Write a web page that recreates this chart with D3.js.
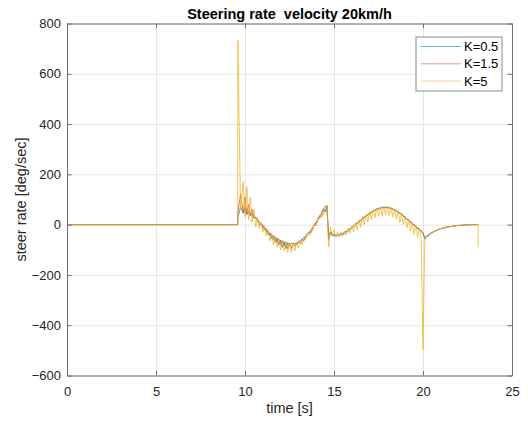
<!DOCTYPE html>
<html>
<head>
<meta charset="utf-8">
<script src="https://cdn.jsdelivr.net/npm/d3@7"></script>
<style>
  body { margin: 0; background: #fff; }
  svg { font-family: "Liberation Sans", Arial, Helvetica, sans-serif; }
  .axis path, .axis line { stroke: #6e6e6e; }
  .axis text { fill: #262626; font-size: 13px; }
  .grid line { stroke: #e6e6e6; }
  .grid path { display: none; }
  .graph { fill: none; stroke-width: 0.75; stroke-linejoin: miter; }
</style>
</head>
<body>
<div id="chart"></div>
<script>
// Sample times [s]
var time = [
  0, 9.59,
  9.6, 9.75, 9.9,
  10.0, 10.1, 10.2, 10.3, 10.4, 10.5, 10.6, 10.7, 10.8, 10.9,
  11.0, 11.1, 11.2, 11.3, 11.4, 11.5, 11.6, 11.7, 11.8, 11.9,
  12.0, 12.1, 12.2, 12.3, 12.4, 12.5, 12.6, 12.7, 12.8, 12.9,
  13.0, 13.1, 13.2, 13.3, 13.4, 13.5, 13.6, 13.7, 13.8, 13.9,
  14.0, 14.1, 14.2, 14.3, 14.4, 14.5, 14.6, 14.7, 14.8, 14.9,
  15.0, 15.1, 15.2, 15.3, 15.4, 15.5, 15.6, 15.7, 15.8, 15.9,
  16.0, 16.1, 16.2, 16.3, 16.4, 16.5, 16.6, 16.7, 16.8, 16.9,
  17.0, 17.1, 17.2, 17.3, 17.4, 17.5, 17.6, 17.7, 17.8, 17.9,
  18.0, 18.1, 18.2, 18.3, 18.4, 18.5, 18.6, 18.7, 18.8, 18.9,
  19.0, 19.1, 19.2, 19.3, 19.4, 19.5, 19.6, 19.7, 19.8, 19.9,
  20.0, 20.1, 20.2, 20.3, 20.4, 20.5, 20.6, 20.7, 20.8, 20.9,
  21.0, 21.1, 21.2, 21.3, 21.4, 21.5, 21.6, 21.7, 21.8, 21.9,
  22.0, 22.1, 22.2, 22.3, 22.4, 22.5, 22.6, 22.7, 22.8, 22.9,
  23.0, 23.1, 23.1
]

// Steer rate [deg/sec], K=0.5
var rate_k05 = [
  0, 0,
  30, 70, 45,
  65, 40, 55, 35, 45, 25, 30, 15, 13, 0,
  -1, -20, -17, -40, -32, -55, -44, -70, -53, -80,
  -61, -90, -67, -95, -72, -80, -75, -75, -74, -80,
  -69, -64, -58, -65, -45, -38, -30, -22, -12, -2,
  10, 22, 36, 40, 62, 50, 75, -60, -30, -45,
  -40, -42, -45, -40, -42, -35, -36, -27, -26, -17,
  -14, -5, -2, 7, 10, 19, 22, 31, 33, 41,
  43, 51, 52, 59, 60, 65, 65, 69, 68, 70,
  67, 68, 64, 63, 57, 56, 49, 47, 39, 36,
  26, 24, 14, 12, 2, 0, -10, -12, -22, -24,
  -34, -58, -50, -44, -38, -33, -29, -25, -22, -19,
  -16, -14, -12, -10, -9, -8, -7, -6, -5, -4,
  -3, -3, -2, -2, -1, -1, -1, 0, 0, 0,
  0, 0, 0
]

// Steer rate [deg/sec], K=1.5
var rate_k15 = [
  0, 0,
  50, 120, 50,
  110, 45, 80, 40, 60, 30, 26, 20, 0, 6,
  -15, -9, -30, -25, -45, -38, -60, -49, -70, -57,
  -80, -64, -85, -70, -95, -74, -95, -75, -85, -72,
  -69, -75, -58, -52, -50, -38, -30, -35, -12, -2,
  0, 22, 36, 30, 62, 72, 75, -40, -30, -36,
  -44, -42, -38, -40, -36, -35, -28, -27, -19, -17,
  -11, -8, 1, 4, 13, 16, 25, 28, 36, 38,
  46, 48, 55, 56, 62, 62, 67, 66, 70, 67,
  69, 65, 66, 60, 60, 53, 52, 44, 42, 33,
  30, 20, 18, 8, 6, -4, -6, -16, -18, -28,
  -32, -50, -45, -40, -35, -31, -27, -24, -21, -18,
  -16, -14, -12, -10, -9, -8, -7, -6, -5, -4,
  -3, -3, -2, -2, -1, -1, -1, 0, 0, 0,
  0, 0, 0
]

// Steer rate [deg/sec], K=5
var rate_k5 = [
  0, 0,
  735, 60, 170,
  30, 150, 20, 110, 10, 60, -10, 30, -15, 10,
  -30, -5, -45, -20, -65, -35, -80, -45, -90, -55,
  -100, -62, -105, -68, -110, -72, -110, -74, -105, -70,
  -95, -62, -80, -50, -60, -36, -45, -20, -25, 5,
  -5, 30, 20, 55, 40, 70, 78, -88, -10, -45,
  -20, -50, -30, -48, -30, -45, -25, -40, -15, -35,
  -5, -30, 8, -20, 20, -10, 32, 0, 42, 10,
  52, 20, 60, 28, 66, 32, 70, 36, 74, 38,
  73, 36, 70, 30, 64, 22, 56, 10, 46, 0,
  34, -12, 22, -25, 10, -38, -2, -50, -14, -62,
  -497, -52, -46, -41, -36, -31, -27, -24, -21, -18,
  -16, -14, -12, -10, -9, -8, -7, -6, -5, -4,
  -3, -3, -2, -2, -1, -1, -1, 0, 0, 0,
  0, 0, -89
]

var series_names = ['K=0.5', 'K=1.5', 'K=5']
var series_values = [rate_k05, rate_k15, rate_k5]

// Axis ticks
var x_ticks = [0, 5, 10, 15, 20, 25]
var y_ticks = [-600, -400, -200, 0, 200, 400, 600, 800]

// MATLAB default line colours
var colours = ['#0072BD', '#D95319', '#EDB120']

var width = 528, height = 423

// Axes box (pixels)
var box = {x0: 67, x1: 512, y0: 23.5, y1: 375.5}

var svg = d3.select('#chart').append('svg')
  .attr('width', width)
  .attr('height', height)

var x = d3.scaleLinear().domain([0, 25]).range([box.x0, box.x1])
var y = d3.scaleLinear().domain([-600, 800]).range([box.y1, box.y0])

// Grid lines
svg.append('g')
  .classed('grid', true)
  .attr('transform', 'translate(0,' + box.y1 + ')')
  .call(d3.axisBottom(x).tickValues(x_ticks).tickSize(-(box.y1 - box.y0)).tickFormat(''))

svg.append('g')
  .classed('grid', true)
  .attr('transform', 'translate(' + box.x0 + ',0)')
  .call(d3.axisLeft(y).tickValues(y_ticks).tickSize(-(box.x1 - box.x0)).tickFormat(''))

// Clip graphs to the axes box
svg.append('clipPath').attr('id', 'clip')
  .append('rect')
  .attr('x', box.x0).attr('y', box.y0)
  .attr('width', box.x1 - box.x0).attr('height', box.y1 - box.y0)

var valueline = d3.line()
  .x(d => x(d.t))
  .y(d => y(d.v))

var graphs = svg.append('g').attr('clip-path', 'url(#clip)')

series_values.forEach(function(values, i) {
  var data = time.map((t, j) => ({t: t, v: values[j]}))
  graphs.append('path')
    .classed('graph', true)
    .attr('d', valueline(data))
    .style('stroke', colours[i])
})

// Axes, ticks pointing inward on all four sides
svg.append('g')
  .classed('axis', true)
  .attr('transform', 'translate(0,' + box.y1 + ')')
  .call(d3.axisBottom(x).tickValues(x_ticks).tickSizeInner(-4.5).tickSizeOuter(0).tickPadding(11))

svg.append('g')
  .classed('axis', true)
  .attr('transform', 'translate(0,' + box.y0 + ')')
  .call(d3.axisTop(x).tickValues(x_ticks).tickSizeInner(-4.5).tickSizeOuter(0).tickFormat(''))

svg.append('g')
  .classed('axis', true)
  .attr('transform', 'translate(' + box.x0 + ',0)')
  .call(d3.axisLeft(y).tickValues(y_ticks).tickSizeInner(-4.5).tickSizeOuter(0).tickPadding(6))

svg.append('g')
  .classed('axis', true)
  .attr('transform', 'translate(' + box.x1 + ',0)')
  .call(d3.axisRight(y).tickValues(y_ticks).tickSizeInner(-4.5).tickSizeOuter(0).tickFormat(''))

svg.selectAll('.axis').attr('font-family', null).attr('font-size', null)

// Title and axis labels
svg.append('text')
  .attr('x', (box.x0 + box.x1) / 2)
  .attr('y', 19)
  .attr('text-anchor', 'middle')
  .style('white-space', 'pre')
  .style('font-size', '14.5px')
  .style('font-weight', 'bold')
  .style('fill', '#000')
  .text('Steering rate  velocity 20km/h')

svg.append('text')
  .attr('x', (box.x0 + box.x1) / 2)
  .attr('y', 413)
  .attr('text-anchor', 'middle')
  .style('font-size', '14.5px')
  .style('fill', '#262626')
  .text('time [s]')

svg.append('text')
  .attr('transform', 'translate(26,' + (box.y0 + box.y1) / 2 + ') rotate(-90)')
  .attr('text-anchor', 'middle')
  .style('font-size', '14.5px')
  .style('fill', '#262626')
  .text('steer rate [deg/sec]')

// Legend
var legend = svg.append('g').attr('transform', 'translate(416,37)')

legend.append('rect')
  .attr('width', 86)
  .attr('height', 54)
  .style('fill', '#fff')
  .style('stroke', '#8a8a8a')

series_names.forEach(function(name, i) {
  var ly = 9.5 + i * 17.3
  legend.append('line')
    .attr('x1', 5).attr('x2', 45)
    .attr('y1', ly).attr('y2', ly)
    .style('stroke', colours[i])
    .style('stroke-width', 0.8)
    .style('opacity', 0.7)
  legend.append('text')
    .attr('x', 48)
    .attr('y', ly + 4.6)
    .style('font-size', '13px')
    .style('fill', '#000')
    .text(name)
})
</script>
</body>
</html>
